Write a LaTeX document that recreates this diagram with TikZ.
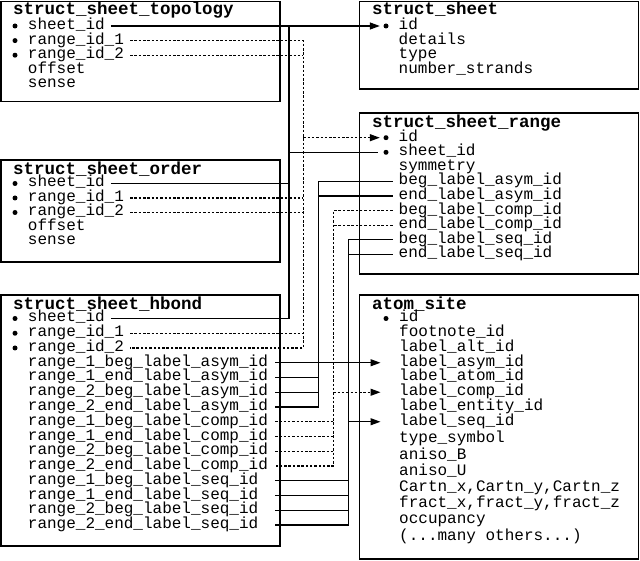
\documentclass[tikz,border=0pt]{standalone}
\usepackage{fontspec}
\newfontfamily\cmono{Liberation Mono}
\usetikzlibrary{arrows.meta,calc}
\newcommand\fldf{\cmono\fontsize{16}{16}\selectfont}
\newcommand\ttlf{\cmono\bfseries\fontsize{17.5}{17.5}\selectfont}
\tikzset{
  fld/.style={anchor=west, xshift=-6pt, inner xsep=6pt, inner ysep=0pt,
              text height=7pt, text depth=0pt, font=\fldf},
  ttl/.style={anchor=base west, inner sep=0pt, font=\ttlf},
  tbl/.style={draw, line width=1.8pt},
  bul/.style={circle, fill, inner sep=0pt, minimum size=5pt},
  con/.style={line width=1.2pt},
  dcon/.style={con, dash pattern=on 2.5pt off 1.8pt},
  arr/.style={-{Triangle[length=10pt,width=7pt]}},
}
\begin{document}
\begin{tikzpicture}[x=1pt,y=-1pt]
\useasboundingbox (0,0) rectangle (640,561);
% ---------- boxes ----------
\draw[tbl] (1,1.5) rectangle (280,101.5);
\draw[tbl] (359.5,1.5) rectangle (638.5,89);
\draw[tbl] (1,160) rectangle (280,262);
\draw[tbl] (359.5,113) rectangle (638.5,274);
\draw[tbl] (1,295) rectangle (280,546);
\draw[tbl] (359.5,295) rectangle (638.5,559);
% ---------- struct_sheet_topology ----------
\node[ttl] (tT) at (13,15) {struct\_sheet\_topology};
\node[bul] (tb1) at (15,26) {};
\node[bul] (tb2) at (15,40.6) {};
\node[bul] (tb3) at (15,55.2) {};
\node[fld] (t-sheet) at (27.7,26) {sheet\_id};
\node[fld] (t-r1) at (27.7,40.6) {range\_id\_1};
\node[fld] (t-r2) at (27.7,55.2) {range\_id\_2};
\node[fld] (t-off) at (27.7,69.8) {offset};
\node[fld] (t-sen) at (27.7,84.4) {sense};
% ---------- struct_sheet ----------
\node[ttl] (sT) at (372,15) {struct\_sheet};
\node[bul] (s-bul) at (386,26) {};
\node[fld] (s-id) at (398.5,26) {id};
\node[fld] (s-det) at (398.5,40.6) {details};
\node[fld] (s-typ) at (398.5,55.2) {type};
\node[fld] (s-num) at (398.5,69.8) {number\_strands};
% ---------- struct_sheet_order ----------
\node[ttl] (oT) at (13,174.3) {struct\_sheet\_order};
\node[bul] (ob1) at (15,183.5) {};
\node[bul] (ob2) at (15,198) {};
\node[bul] (ob3) at (15,212.5) {};
\node[fld] (o-sheet) at (27.7,183.5) {sheet\_id};
\node[fld] (o-r1) at (27.7,198) {range\_id\_1};
\node[fld] (o-r2) at (27.7,212.5) {range\_id\_2};
\node[fld] (o-off) at (27.7,227) {offset};
\node[fld] (o-sen) at (27.7,241.5) {sense};
% ---------- struct_sheet_range ----------
\node[ttl] (rT) at (372,127.3) {struct\_sheet\_range};
\node[bul] (r-bul1) at (386,137.7) {};
\node[bul] (r-bul2) at (386,152.3) {};
\node[fld] (r-id) at (398.5,137.7) {id};
\node[fld] (r-sheet) at (398.5,152.3) {sheet\_id};
\node[fld] (r-sym) at (398.5,166.9) {symmetry};
\node[fld] (r-ba) at (398.5,181.5) {beg\_label\_asym\_id};
\node[fld] (r-ea) at (398.5,196.1) {end\_label\_asym\_id};
\node[fld] (r-bc) at (398.5,210.7) {beg\_label\_comp\_id};
\node[fld] (r-ec) at (398.5,225.3) {end\_label\_comp\_id};
\node[fld] (r-bs) at (398.5,239.9) {beg\_label\_seq\_id};
\node[fld] (r-es) at (398.5,254.5) {end\_label\_seq\_id};
% ---------- struct_sheet_hbond ----------
\node[ttl] (hT) at (13,309.3) {struct\_sheet\_hbond};
\node[bul] (hb1) at (15,318.5) {};
\node[bul] (hb2) at (15,333.25) {};
\node[bul] (hb3) at (15,348) {};
\node[fld] (h-sheet) at (27.7,318.5) {sheet\_id};
\node[fld] (h-r1) at (27.7,333.25) {range\_id\_1};
\node[fld] (h-r2) at (27.7,348) {range\_id\_2};
\node[fld] (h-1ba) at (27.7,362.75) {range\_1\_beg\_label\_asym\_id};
\node[fld] (h-1ea) at (27.7,377.5) {range\_1\_end\_label\_asym\_id};
\node[fld] (h-2ba) at (27.7,392.25) {range\_2\_beg\_label\_asym\_id};
\node[fld] (h-2ea) at (27.7,407) {range\_2\_end\_label\_asym\_id};
\node[fld] (h-1bc) at (27.7,421.75) {range\_1\_beg\_label\_comp\_id};
\node[fld] (h-1ec) at (27.7,436.5) {range\_1\_end\_label\_comp\_id};
\node[fld] (h-2bc) at (27.7,451.25) {range\_2\_beg\_label\_comp\_id};
\node[fld] (h-2ec) at (27.7,466) {range\_2\_end\_label\_comp\_id};
\node[fld] (h-1bs) at (27.7,480.75) {range\_1\_beg\_label\_seq\_id};
\node[fld] (h-1es) at (27.7,495.5) {range\_1\_end\_label\_seq\_id};
\node[fld] (h-2bs) at (27.7,510.25) {range\_2\_beg\_label\_seq\_id};
\node[fld] (h-2es) at (27.7,525) {range\_2\_end\_label\_seq\_id};
% ---------- atom_site ----------
\node[ttl] (aT) at (372,310) {atom\_site};
\node[bul] (a-bul) at (386,318.5) {};
\node[fld] (a-id) at (399,318.5) {id};
\node[fld] (a-fn) at (399,333.25) {footnote\_id};
\node[fld] (a-alt) at (399,348) {label\_alt\_id};
\node[fld] (a-asym) at (399,362.75) {label\_asym\_id};
\node[fld] (a-atom) at (399,377.5) {label\_atom\_id};
\node[fld] (a-comp) at (399,392.25) {label\_comp\_id};
\node[fld] (a-ent) at (399,407) {label\_entity\_id};
\node[fld] (a-seq) at (399,421.75) {label\_seq\_id};
\node[fld] (a-typ) at (399,439.3) {type\_symbol};
\node[fld] (a-ab) at (399,455.5) {aniso\_B};
\node[fld] (a-au) at (399,471.7) {aniso\_U};
\node[fld] (a-cart) at (399,487.9) {Cartn\_x,Cartn\_y,Cartn\_z};
\node[fld] (a-fr) at (399,504.1) {fract\_x,fract\_y,fract\_z};
\node[fld] (a-occ) at (399,520.3) {occupancy};
\node[fld] (a-more) at (399,536.5) {(...many others...)};
% ---------- bus coordinates ----------
\coordinate (bA) at (289,0);
\coordinate (bB) at (303.3,0);
\coordinate (bC) at (318.3,0);
\coordinate (bD) at (333.3,0);
\coordinate (bE) at (348.3,0);
\coordinate (hx) at (275,0);
% ---------- sheet_id (solid) ----------
\draw[con,arr,shorten >=3.5pt] (t-sheet.east) -- (s-bul.west);
\draw[con] (h-sheet.east) -- (h-sheet.east -| bA) -- (t-sheet.east -| bA);
\draw[con] (o-sheet.east) -- (o-sheet.east -| bA);
\draw[con,shorten >=5.5pt] (r-sheet.west -| bA) -- (r-bul2.west);
% ---------- range ids (dotted) ----------
\draw[dcon] (t-r1.east) -- (t-r1.east -| bB) -- (h-r2.east -| bB) -- (h-r2.east);
\draw[dcon] (t-r2.east) -- (t-r2.east -| bB);
\draw[dcon] (o-r1.east) -- (o-r1.east -| bB);
\draw[dcon] (o-r2.east) -- (o-r2.east -| bB);
\draw[dcon] (h-r1.east) -- (h-r1.east -| bB);
\draw[dcon,arr,shorten >=3.5pt] (r-id.west -| bB) -- (r-bul1.west);
% ---------- asym (solid) ----------
\draw[con] (r-ba.west) -- (r-ba.west -| bC) -- (h-2ea.east -| bC) -- (h-2ea.east -| hx);
\draw[con] (r-ea.west) -- (r-ea.west -| bC);
\draw[con] (h-1ea.east -| hx) -- (h-1ea.east -| bC);
\draw[con] (h-2ba.east -| hx) -- (h-2ba.east -| bC);
\draw[con,arr,shorten >=12.5pt] (h-1ba.east -| hx) -- (a-asym.west);
% ---------- comp (dotted) ----------
\draw[dcon] (r-bc.west) -- (r-bc.west -| bD) -- (h-2ec.east -| bD) -- (h-2ec.east -| hx);
\draw[dcon] (r-ec.west) -- (r-ec.west -| bD);
\draw[dcon] (h-1bc.east -| hx) -- (h-1bc.east -| bD);
\draw[dcon] (h-1ec.east -| hx) -- (h-1ec.east -| bD);
\draw[dcon] (h-2bc.east -| hx) -- (h-2bc.east -| bD);
\draw[dcon,arr,shorten >=12.5pt] (a-comp.west -| bD) -- (a-comp.west);
% ---------- seq (solid) ----------
\draw[con] (r-bs.west) -- (r-bs.west -| bE) -- (h-2es.east -| bE) -- (h-2es.east -| hx);
\draw[con] (r-es.west) -- (r-es.west -| bE);
\draw[con] (h-1bs.east -| hx) -- (h-1bs.east -| bE);
\draw[con] (h-1es.east -| hx) -- (h-1es.east -| bE);
\draw[con] (h-2bs.east -| hx) -- (h-2bs.east -| bE);
\draw[con,arr,shorten >=12.5pt] (a-seq.west -| bE) -- (a-seq.west);
\end{tikzpicture}
\end{document}
